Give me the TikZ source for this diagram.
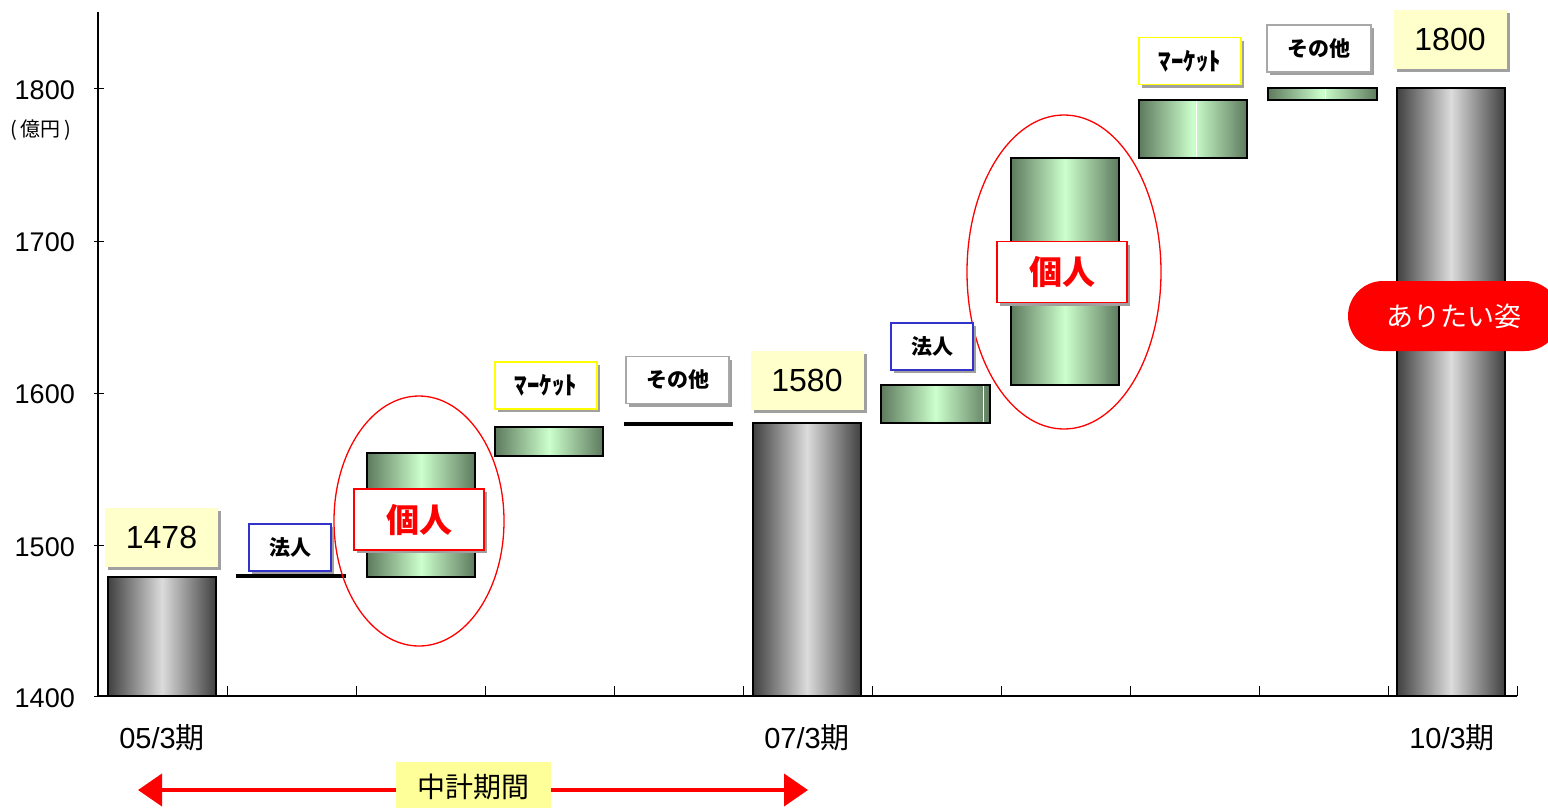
\documentclass[tikz,border=0pt]{standalone}
\usepackage{fontspec}
\setmainfont{Liberation Sans}
\newfontfamily\jp{Noto Sans CJK JP}
\usetikzlibrary{shadows,arrows.meta}
\definecolor{bardark}{HTML}{404040}
\definecolor{barlight}{HTML}{DCDCDC}
\definecolor{gdark}{HTML}{5E7A5E}
\definecolor{glight}{HTML}{CCFFCC}
\definecolor{valfill}{HTML}{FFFFCC}
\definecolor{shgray}{HTML}{A0A0A0}
\definecolor{lblue}{HTML}{3333CC}
\definecolor{lyellow}{HTML}{FFFF00}
\definecolor{lgray}{HTML}{A8A8A8}
\definecolor{planfill}{HTML}{FFFF99}
\tikzset{
  graybar/.style={draw=black, line width=1.2pt, left color=bardark, right color=bardark, middle color=barlight},
  greenbar/.style={draw=black, line width=1.2pt, left color=gdark, right color=gdark, middle color=glight},
  zeroline/.style={line width=3.5pt},
  glint/.style={white, line width=0.8pt},
  myshadow/.style={drop shadow={shadow xshift=3pt, shadow yshift=-3pt, fill=shgray, opacity=1}},
  valbox/.style={fill=valfill, minimum width=113pt, minimum height=59pt, inner sep=0pt, myshadow, font=\fontsize{32}{32}\selectfont},
  lbl/.style={draw, line width=1.6pt, fill=white, minimum width=82pt, minimum height=47pt, inner sep=0pt, myshadow, font=\jp\bfseries\fontsize{21}{21}\selectfont},
  mktfont/.style={font=\jp\bfseries\fontsize{25}{25}\selectfont},
  kojin/.style={draw=red, line width=1.8pt, fill=white, minimum width=130pt, minimum height=61pt, inner sep=0pt, myshadow, text=red, font=\jp\bfseries\fontsize{33}{33}\selectfont},
  ring/.style={draw=red, line width=1.3pt},
  axis/.style={line width=1.3pt},
  tick/.style={line width=1pt},
  ylab/.style={anchor=east, inner sep=0pt, font=\fontsize{27}{27}\selectfont},
  xlab/.style={inner sep=0pt, font=\fontsize{29}{29}\selectfont},
  planbox/.style={fill=planfill, minimum width=155pt, minimum height=50pt, inner sep=0pt, font=\jp\fontsize{28}{28}\selectfont},
  redarrow/.style={red, line width=4pt, {Triangle[length=24pt,width=32pt]}-{Triangle[length=24pt,width=32pt]}},
  pill/.style={fill=red, minimum width=212pt, minimum height=70pt, rounded corners=35pt, inner sep=0pt, text=white, font=\jp\fontsize{27}{27}\selectfont}
}
\begin{document}
\begin{tikzpicture}[x=1pt,y=-1pt]
\useasboundingbox (0,0) rectangle (1548,807);
\fill[white] (0,0) rectangle (1548,807);
% axes
\coordinate (ytop) at (98,12);
\coordinate (org) at (98,696);
\coordinate (xend) at (1517,696);
\draw[axis] (ytop) -- (org) -- (xend);
\foreach \yy in {88,241,393,545,696} \draw[tick] (94,\yy) -- (104,\yy);
\foreach \k in {1,...,11} \draw[tick] (98+129*\k,696) -- (98+129*\k,686);
% y labels
\node[ylab] (y1800) at (75,90) {1800};
\node[ylab] (y1700) at (75,242) {1700};
\node[ylab] (y1600) at (75,394) {1600};
\node[ylab] (y1500) at (75,547) {1500};
\node[ylab] (y1400) at (75,698) {1400};
\node[inner sep=0pt, font=\jp\fontsize{20}{20}\selectfont] (unit) at (41,130) {(\,億円\,)};
% bars
\draw[graybar] (108,577) rectangle (216,696);
\draw[zeroline] (236,576) -- (346,576);
\draw[greenbar] (367,453) rectangle (475,577);
\draw[greenbar] (495,427) rectangle (603,456);
\draw[zeroline] (624,424) -- (733,424);
\draw[graybar] (753,423) rectangle (861,696);
\draw[greenbar] (881,385) rectangle (990,423);
\draw[glint] (983,386) -- (983,422);
\draw[greenbar] (1011,158) rectangle (1119,385);
\draw[greenbar] (1139,100) rectangle (1247,158);
\draw[glint] (1196,101) -- (1196,157);
\draw[greenbar] (1268,88) rectangle (1377,100);
\draw[glint] (1325,89) -- (1325,99);
\draw[graybar] (1397,88) rectangle (1505,696);
% ellipses
\draw[ring] (419,521) ellipse [x radius=85, y radius=125];
\draw[ring] (1064,272) ellipse [x radius=97, y radius=157];
% value boxes
\node[valbox] (v1478) at (161.5,537.5) {\raisebox{-2pt}{1478}};
\node[valbox] (v1580) at (807,380) {\raisebox{-2pt}{1580}};
\node[valbox] (v1800) at (1450,39.5) {\raisebox{-2pt}{1800}};
% category labels
\node[lbl, draw=lblue] (hojin1) at (290,547.5) {法人};
\node[kojin] (kojin1) at (419,519.5) {個人};
\node[lbl, draw=lyellow, minimum width=102pt, mktfont] (mkt1) at (546,385.5) {ﾏｰｹｯﾄ};
\node[lbl, draw=lgray, minimum width=103pt] (oth1) at (677.5,380) {その他};
\node[lbl, draw=lblue] (hojin2) at (932,346.5) {法人};
\node[kojin] (kojin2) at (1062,272) {個人};
\node[lbl, draw=lyellow, minimum width=102pt, mktfont] (mkt2) at (1190,61) {ﾏｰｹｯﾄ};
\node[lbl, draw=lgray, minimum width=104pt] (oth2) at (1319,48.5) {その他};
% target pill
\node[pill] (goal) at (1454,316) {ありたい姿};
% x labels
\node[xlab] (x05) at (162,738) {05/3{\jp 期}};
\node[xlab] (x07) at (807,738) {07/3{\jp 期}};
\node[xlab] (x10) at (1452,738) {10/3{\jp 期}};
% plan period arrow
\coordinate (al) at (138,790);
\coordinate (ar) at (808,790);
\draw[redarrow] (al) -- (ar);
\node[planbox] (plan) at (473.5,787) {中計期間};
\end{tikzpicture}
\end{document}
